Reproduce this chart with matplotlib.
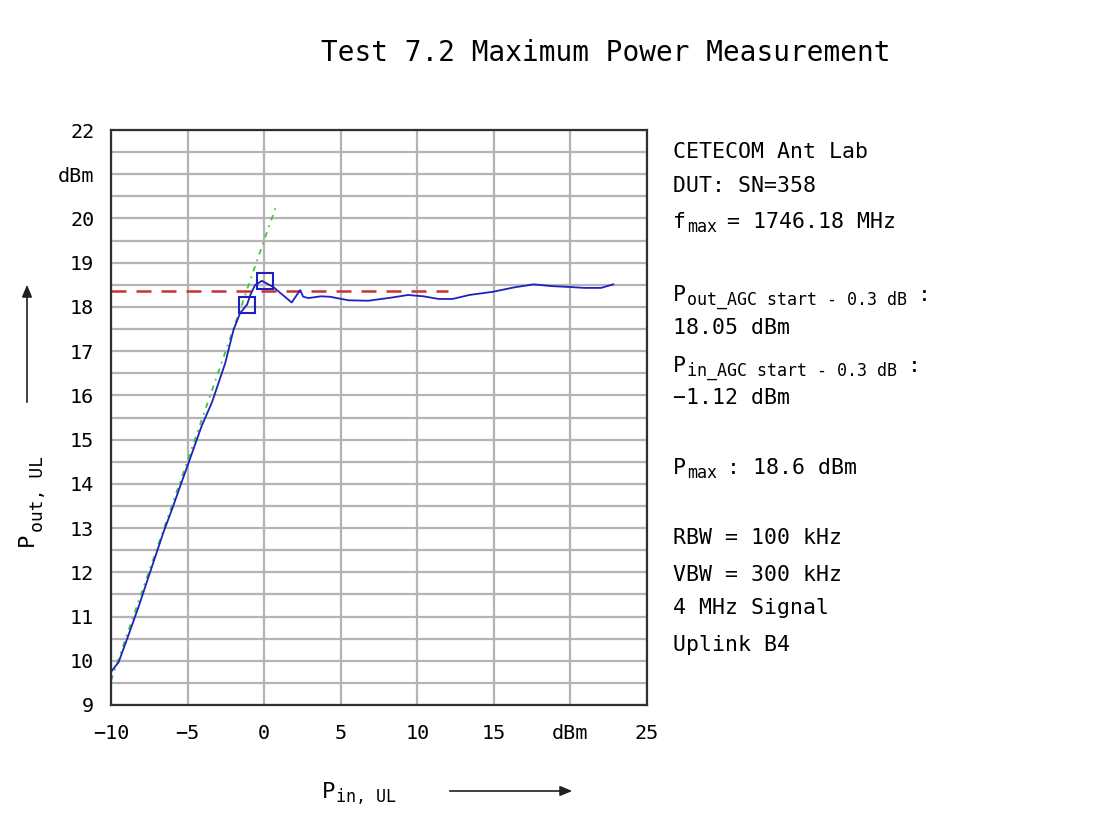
import matplotlib
matplotlib.use('Agg')
import matplotlib.pyplot as plt
from matplotlib.patches import FancyArrowPatch
import numpy as np

plt.rcParams['font.family'] = 'DejaVu Sans Mono'

pin = [-10, -9.5, -8.9, -8.2, -7.45, -6.6, -6.0, -5.5, -4.95, -4.1, -3.4, -2.55,
       -2.0, -1.57, -1.12, -0.9, -0.6, -0.15, 0.6, 1.8, 2.35, 2.55, 2.9, 3.7,
       4.3, 5.5, 6.8, 8.3, 9.4, 10.4, 11.4, 12.3, 13.4, 14.9, 16.3, 17.6, 18.8,
       20.0, 20.9, 22.0, 22.8]
pout = [9.75, 9.97, 10.54, 11.22, 12.0, 12.88, 13.44, 13.93, 14.46, 15.29, 15.85,
        16.72, 17.48, 17.86, 18.05, 18.27, 18.49, 18.59, 18.45, 18.1, 18.38, 18.23,
        18.2, 18.24, 18.23, 18.15, 18.14, 18.21, 18.27, 18.24, 18.18, 18.18, 18.27,
        18.34, 18.44, 18.51, 18.47, 18.45, 18.43, 18.43, 18.51]

# linear reference line
lin_x = [-10, 0.8]
lin_y = [9.55, 20.3]

# AGC level line
agc_x = [-10, 12]
agc_y = [18.35, 18.35]

# marked points
mark_x = [-1.12, 0.05]
mark_y = [18.05, 18.58]

xticks = [-10, -5, 0, 5, 10, 15, 20, 25]
xticklabels = ['\u221210', '\u22125', '0', '5', '10', '15', 'dBm', '25']
yticks = list(range(9, 23))
yticklabels = [str(v) for v in yticks]
yticklabels[yticks.index(21)] = 'dBm'

# (main, subscript, rest, y pixel)
info_lines = [
    ('CETECOM Ant Lab', '', '', 152),
    ('DUT: SN=358', '', '', 186),
    ('f', 'max', '= 1746.18 MHz', 222),
    ('P', 'out_AGC start - 0.3 dB', ':', 295),
    ('18.05 dBm', '', '', 328),
    ('P', 'in_AGC start - 0.3 dB', ':', 366),
    ('\u22121.12 dBm', '', '', 398),
    ('P', 'max', ': 18.6 dBm', 468),
    ('RBW = 100 kHz', '', '', 538),
    ('VBW = 300 kHz', '', '', 575),
    ('4 MHz Signal', '', '', 608),
    ('Uplink B4', '', '', 645),
]

W, H = 1094, 818
MAIN = 15.5
SUB = 12


def cw(size):
    # monospace advance in pixels
    return 0.602 * size * 100 / 72


def sub_text(fig, x, y, main, sub, rest, size=MAIN, subsize=SUB, drop=5,
             vertical=False):
    # x, y in pixels from top-left; draws main + lowered subscript + rest
    pos = 0.0
    pieces = [(main, size, 0, 1), (sub, subsize, drop, 10), (rest, size, 0, 0)]
    for txt, sz, dd, gap in pieces:
        if not txt:
            continue
        if vertical:
            px, py = x + dd, y - pos
            fig.text(px / W, 1 - py / H, txt, fontsize=sz, rotation=90,
                     ha='center', va='bottom')
        else:
            px, py = x + pos, y + dd
            fig.text(px / W, 1 - py / H, txt, fontsize=sz, ha='left', va='center')
        pos += len(txt) * cw(sz) + gap


fig = plt.figure(figsize=(10.94, 8.18), dpi=100)
fig.patch.set_facecolor('white')
ax = fig.add_axes([111 / W, 1 - 705 / H, 536 / W, 575 / H])

ax.set_xlim(-10, 25)
ax.set_ylim(9, 22)
ax.set_xticks(xticks)
ax.set_xticklabels(xticklabels)
ax.set_yticks(yticks)
ax.set_yticklabels(yticklabels)
ax.set_yticks(np.arange(9, 22.01, 0.5), minor=True)
ax.tick_params(which='both', length=0, labelsize=14.5)
ax.tick_params(axis='y', pad=12)
ax.tick_params(axis='x', pad=14)
ax.grid(True, axis='x', which='major', color='#b4b4b4', linewidth=1.6)
ax.grid(True, axis='y', which='both', color='#b4b4b4', linewidth=1.6)
ax.set_axisbelow(True)
for s in ax.spines.values():
    s.set_color('#303030')
    s.set_linewidth(1.6)

ax.plot(agc_x, agc_y, color='#c83232', linestyle=(0, (6, 4)), linewidth=1.8)
ax.plot(lin_x, lin_y, color='#3cc83c', linestyle=(0, (3, 3, 1, 3)), linewidth=1.3)
ax.plot(pin, pout, color='#2020c0', linewidth=1.3)
ax.plot(mark_x, mark_y, linestyle='none', marker='s', markersize=12,
        markerfacecolor='none', markeredgecolor='#2020c0', markeredgewidth=1.5)

fig.text(606 / W, 1 - 53 / H, 'Test 7.2 Maximum Power Measurement', ha='center',
         va='center', fontsize=20)

for main, sub, rest, yy in info_lines:
    sub_text(fig, 673, yy, main, sub, rest)

# axis labels with arrows
sub_text(fig, 322, 792, 'P', 'in, UL', '', size=16, subsize=12)
sub_text(fig, 27, 546, 'P', 'out, UL', '', size=16, subsize=13, drop=11,
         vertical=True)
fig.patches.append(FancyArrowPatch(
    (27 / W, 1 - 405 / H), (27 / W, 1 - 282 / H), transform=fig.transFigure,
    arrowstyle='-|>,head_length=0.6,head_width=0.25', mutation_scale=12,
    color='#202020', linewidth=1.2, facecolor='white'))
fig.patches.append(FancyArrowPatch(
    (447 / W, 1 - 791 / H), (575 / W, 1 - 791 / H), transform=fig.transFigure,
    arrowstyle='-|>,head_length=0.6,head_width=0.25', mutation_scale=12,
    color='#202020', linewidth=1.2, facecolor='white'))

fig.savefig('out.png', dpi=100)
